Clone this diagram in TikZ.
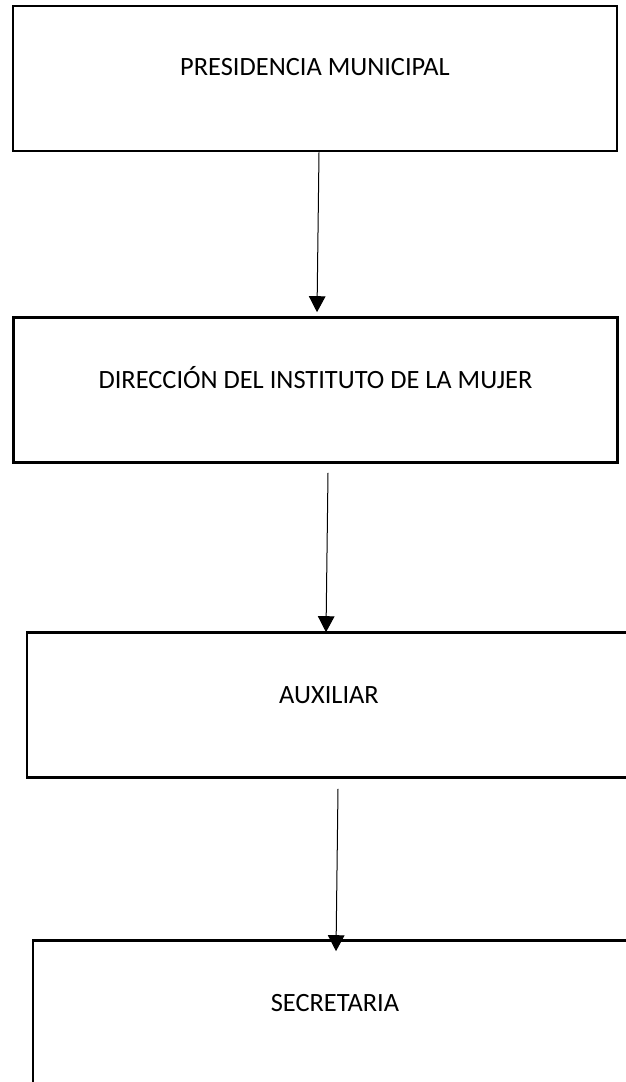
\documentclass[tikz,border=0pt]{standalone}
\usepackage{fontspec}
\setmainfont{Carlito}
\usepackage{tikz}
\usetikzlibrary{arrows.meta}
\usetikzlibrary{positioning}

\begin{document}
\begin{tikzpicture}[x=0.5pt,y=-0.5pt,
				caja/.style={draw=black,line width=1.3pt,minimum width=302pt,minimum height=72.5pt,inner sep=0pt},
				texto/.style={font=\fontsize{13.2}{15}\selectfont,text height=8.5pt,text depth=0pt,inner sep=0pt},
				flecha/.style={-{Triangle[width=8.3pt,length=8pt]},line width=0.5pt}]
				\useasboundingbox (0,0) rectangle (626,1082);
				\clip (0,0) rectangle (626,1082);
				% cajas
				\node[caja] (pres) at (315,78.5) {};
				\node[caja] (dir) at (315.5,390) {};
				\node[caja] (aux) at (329,705) {};
				\node[caja] (sec) at (335,1013) {};
				% textos
				\node[texto] (tpres) at ([yshift=6pt]pres.center) {PRESIDENCIA MUNICIPAL};
				\node[texto] (tdir) at ([yshift=5pt]dir.center) {DIRECCIÓN DEL INSTITUTO DE LA MUJER};
				\node[texto] (taux) at ([yshift=5pt]aux.center) {AUXILIAR};
				\node[texto] (tsec) at ([yshift=5pt]sec.center) {SECRETARIA};
				% flechas
				\draw[flecha] ([xshift=2pt]pres.south) -- ([xshift=0.75pt,yshift=2pt]dir.north);
				\draw[flecha] ([xshift=6.25pt,yshift=-4.5pt]dir.south) -- ([xshift=-1.5pt,yshift=-0.5pt]aux.north);
				\draw[flecha] ([xshift=4.5pt,yshift=-5pt]aux.south) -- ([xshift=0.5pt,yshift=-6pt]sec.north);
			\end{tikzpicture}
\end{document}
